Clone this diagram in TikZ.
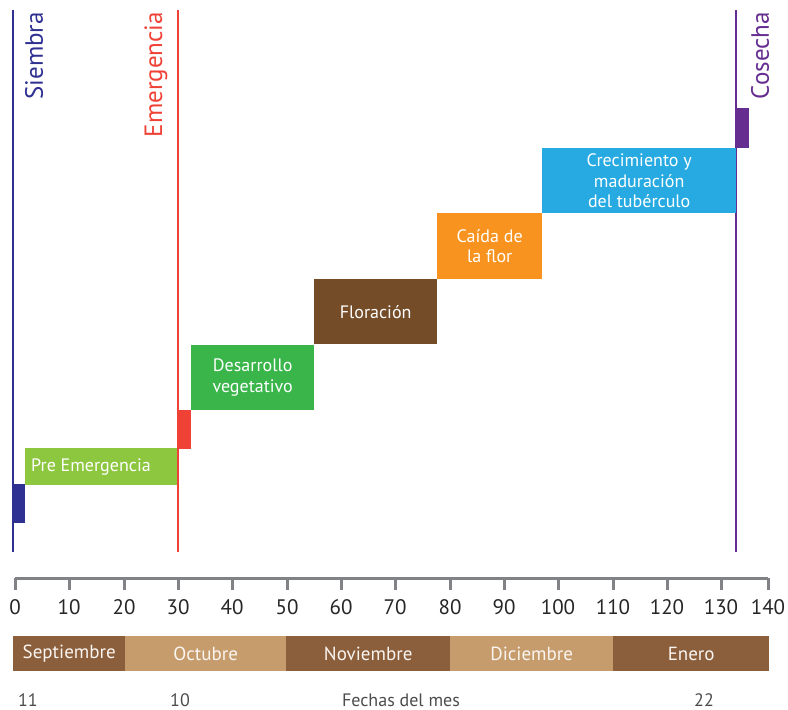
\documentclass[tikz,border=0pt]{standalone}
\usepackage{fontspec}
\setmainfont{PT Sans}

\definecolor{siembra}{HTML}{2E3192}
\definecolor{emergencia}{HTML}{EF4136}
\definecolor{cosecha}{HTML}{662D91}
\definecolor{verdeclaro}{HTML}{8DC63F}
\definecolor{verde}{HTML}{39B54A}
\definecolor{cafe}{HTML}{754C28}
\definecolor{naranja}{HTML}{F7931E}
\definecolor{celeste}{HTML}{27AAE1}
\definecolor{mesoscuro}{HTML}{8B5E3C}
\definecolor{mesclaro}{HTML}{C69C6D}
\definecolor{eje}{HTML}{808285}

\begin{document}
\begin{tikzpicture}[x=1pt, y=-1pt,
  fase/.style={anchor=north west, inner sep=0pt, text=white, align=center,
    font=\fontsize{18}{20.5}\selectfont},
  mes/.style={anchor=north west, inner sep=0pt, minimum height=35pt, text=white!92!brown,
    font=\fontsize{19}{19}\selectfont},
  etapa/.style={rotate=90, anchor=east, inner sep=0pt, font=\fontsize{25}{25}\selectfont},
  fecha/.style={text=black!70, font=\fontsize{18}{18}\selectfont}]
  \useasboundingbox (0,0) rectangle (788,710);

  % lineas de siembra, emergencia y cosecha
  \coordinate (S1) at (13,10);
  \coordinate (S2) at (13,552);
  \coordinate (E1) at (178,10);
  \coordinate (E2) at (178,552);
  \coordinate (C1) at (736,10);
  \coordinate (C2) at (736,552);

  \draw[siembra, line width=2.5pt] (S1) -- (S2);
  \draw[emergencia, line width=2.5pt] (E1) -- (E2);
  \draw[cosecha, line width=2.5pt] (C1) -- (C2);

  \node[etapa, text=siembra]    (lsiembra)    at (34,12)  {Siembra};
  \node[etapa, text=emergencia] (lemergencia) at (156,12) {Emergencia};
  \node[etapa, text=cosecha]    (lcosecha)    at (760,12) {Cosecha};

  % marcas cortas
  \fill[siembra]    (12,484) rectangle (25,523);
  \fill[emergencia] (178,410) rectangle (191,449);
  \fill[cosecha]    (736,108) rectangle (749,148);

  % fases del cultivo
  \node[fase, fill=verdeclaro, minimum width=152pt, minimum height=37pt] (pre) at (25,448) {};
  \node[anchor=west, inner sep=0pt, text=white, font=\fontsize{18}{20}\selectfont]
    (pretxt) at ([xshift=6pt]pre.west) {Pre Emergencia};
  \node[fase, fill=verde, minimum width=123pt, minimum height=65pt] (des) at (191,345)
    {Desarrollo\\vegetativo};
  \node[fase, fill=cafe, minimum width=123pt, minimum height=65pt] (flo) at (314,279)
    {Floración};
  \node[fase, fill=naranja, minimum width=105pt, minimum height=66pt] (cai) at (437,213)
    {Caída de\\la flor};
  \node[fase, fill=celeste, minimum width=194pt, minimum height=65pt] (cre) at (542,148)
    {Crecimiento y\\maduración\\del tubérculo};

  % eje de dias
  \draw[eje, line width=3pt] (15,578) -- (768,578);
  \foreach \v/\px in {0/15,10/69,20/124,30/178,40/232,50/287,60/341,70/395,
                      80/450,90/504,100/558,110/613,120/667,130/721,140/768}
  {
    \draw[eje, line width=3pt] (\px,578) -- (\px,590);
    \node[text=black!85, font=\fontsize{21}{21}\selectfont] (t\v) at (\px,607) {\v};
  }

  % meses
  \node[mes, fill=mesoscuro, minimum width=112pt] (sep) at (13,636)  {Septiembre};
  \node[mes, fill=mesclaro,  minimum width=161pt] (oct) at (125,636) {Octubre};
  \node[mes, fill=mesoscuro, minimum width=164pt] (nov) at (286,636) {Noviembre};
  \node[mes, fill=mesclaro,  minimum width=163pt] (dic) at (450,636) {Diciembre};
  \node[mes, fill=mesoscuro, minimum width=156pt] (ene) at (613,636) {Enero};

  % fechas
  \node[fecha] (f11) at (28,700)  {11};
  \node[fecha] (f10) at (180,700) {10};
  \node[fecha] (fmes) at (401,700) {Fechas del mes};
  \node[fecha] (f22) at (704,700) {22};
\end{tikzpicture}
\end{document}
